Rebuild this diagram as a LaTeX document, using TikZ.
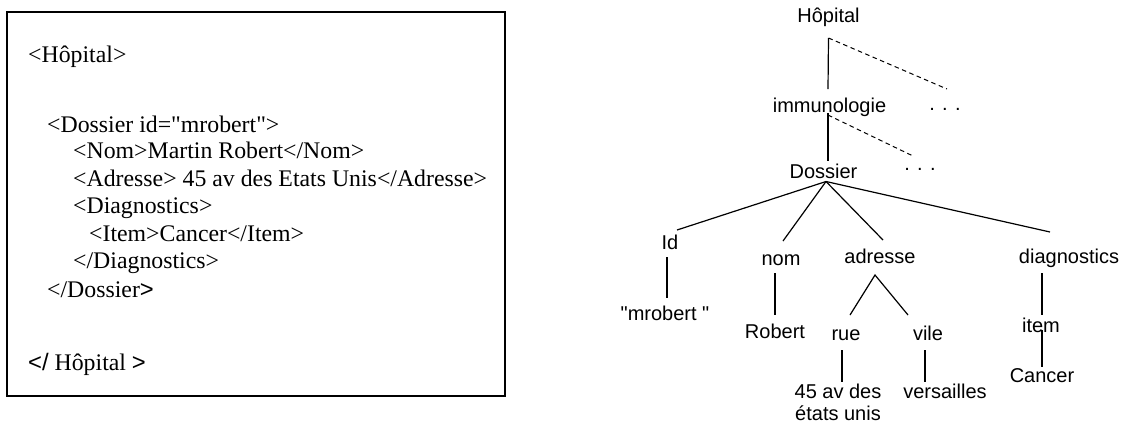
\documentclass[tikz,border=0pt]{standalone}
\usepackage{fontspec}
\newfontfamily\timesfont{Liberation Serif}
\newfontfamily\arialfont{Liberation Sans}
\usetikzlibrary{calc}
\begin{document}
\begin{tikzpicture}[x=1pt,y=-1pt,
  xmltext/.style={anchor=base west, inner sep=0pt, font=\timesfont\fontsize{23.8}{27.5}\selectfont},
  tnode/.style={anchor=base, inner sep=0pt, font=\arialfont\fontsize{20}{23}\selectfont},
  edge/.style={line width=1.2pt},
  more/.style={line width=1pt, dash pattern=on 4.5pt off 3.5pt}]
\useasboundingbox (0,0) rectangle (1130,424);

% XML listing in its frame
\node[draw, line width=2pt, minimum width=498pt, minimum height=384pt, inner sep=0pt] (xmlbox) at (256,204) {};
\node[xmltext] (l1) at (28,62)  {<Hôpital>};
\node[xmltext] (l2) at (47,132) {<Dossier id="mrobert">};
\node[xmltext] (l3) at (73,158) {<Nom>Martin Robert</Nom>};
\node[xmltext] (l4) at (73,186) {<Adresse> 45 av des Etats Unis</Adresse>};
\node[xmltext] (l5) at (73,213) {<Diagnostics>};
\node[xmltext] (l6) at (89,241) {<Item>Cancer</Item>};
\node[xmltext] (l7) at (73,268) {</Diagnostics>};
\node[xmltext] (l8) at (47,297) {</Dossier{\arialfont >}};
\node[xmltext] (l9) at (28,370) {{\arialfont </} Hôpital {\arialfont >}};

% Tree of the document
\node[tnode] (hop)  at (828.5,22)  {Hôpital};
\node[tnode] (imm)  at (829.5,112) {immunologie};
\node[tnode] (dotsA) at (945,110)  {. . .};
\node[tnode] (dos)  at (823.5,178) {Dossier};
\node[tnode] (dotsB) at (920,170)  {. . .};
\node[tnode] (id)   at (670,249)   {Id};
\node[tnode] (nom)  at (781,265)   {nom};
\node[tnode] (adr)  at (880,263)   {adresse};
\node[tnode] (diag) at (1069,263)  {diagnostics};
\node[tnode] (mrob) at (665,320)   {"mrobert "};
\node[tnode] (rob)  at (775,338)   {Robert};
\node[tnode] (rue)  at (846,340)   {rue};
\node[tnode] (vile) at (928,340)   {vile};
\node[tnode] (adrA) at (838,398)   {45 av des};
\node[tnode] (adrB) at (838,420)   {états unis};
\node[tnode] (vers) at (945,398)   {versailles};
\node[tnode] (item) at (1041,332)  {item};
\node[tnode] (canc) at (1042,382)  {Cancer};

\draw[edge] ($(hop.base)+(0,16)$) -- ($(imm.base)+(-1.5,-23)$);
\draw[more] ($(hop.base)+(0,16)$) -- ($(dotsA.base)+(2,-21)$);
\draw[edge] ($(imm.base)+(-1.5,1)$) -- ($(dos.base)+(4.5,-17)$);
\draw[more] ($(imm.base)+(-1.5,3)$) -- ($(dotsB.base)+(-7,-14)$);

\coordinate (apex) at ($(dos.base)+(2.5,3.5)$);
\draw[edge] (apex) -- ($(id.base)+(7,-19)$);
\draw[edge] (apex) -- ($(nom.base)+(2,-24)$);
\draw[edge] (apex) -- ($(adr.base)+(3,-23)$);
\draw[edge] (apex) -- ($(diag.base)+(-19,-31)$);

\draw[edge] ($(id.base)+(-3,8)$) -- ($(mrob.base)+(2,-22)$);
\draw[edge] ($(nom.base)+(-6,8)$) -- ($(rob.base)+(0,-23)$);
\draw[edge] ($(rue.base)+(4,-25)$) -- ($(adr.base)+(-5,12)$) -- ($(vile.base)+(-20,-25)$);
\draw[edge] ($(rue.base)+(-4,10)$) -- ($(adrA.base)+(4,-16)$);
\draw[edge] ($(vile.base)+(-3,10)$) -- ($(vers.base)+(-20,-16)$);
\draw[edge] ($(diag.base)+(-27,10)$) -- ($(item.base)+(1,-17)$);
\draw[edge] ($(item.base)+(1,-2)$) -- ($(canc.base)+(0,-15)$);
\end{tikzpicture}
\end{document}
